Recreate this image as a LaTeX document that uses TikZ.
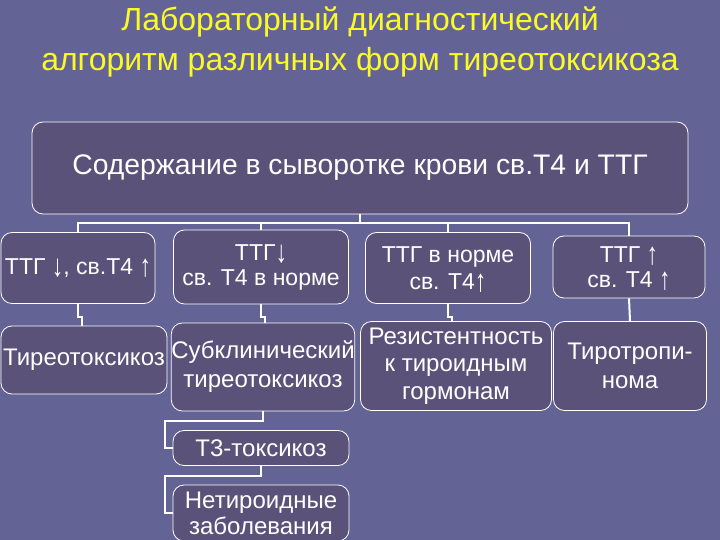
\documentclass[tikz,border=0pt]{standalone}
\usepackage{graphicx}
\usepackage{fontspec}
\setmainfont{Liberation Sans}
\definecolor{slide}{RGB}{99,99,150}
\definecolor{boxfill}{RGB}{91,82,121}
\definecolor{titleyellow}{RGB}{250,250,40}
% taller arrows as on the slide
\newcommand\arrup{\smash{\raisebox{-2pt}{\scalebox{1}[1.35]{↑}}}}
\newcommand\arrdn{\smash{\raisebox{-2pt}{\scalebox{1}[1.35]{↓}}}}

\begin{document}
\begin{tikzpicture}[x=1pt,y=-1pt,font=\fontsize{23}{25}\selectfont]
\tikzset{
% boxes of the algorithm: rounded, thin white frame
box/.style={draw=white,line width=0.8pt,fill=boxfill,rounded corners=11,text=white,align=center,inner sep=0pt},
link/.style={draw=white,line width=2pt},
wide/.style={font=\fontsize{24}{29}\selectfont}
}
\fill[slide] (0,0) rectangle (720,540);
\useasboundingbox (0,0) rectangle (720,540);

% title
\node(t)[text=titleyellow,align=center,font=\fontsize{32}{40}\selectfont] at (360,42) {Лабораторный диагностический\\алгоритм различных форм тиреотоксикоза};

% the boxes
\node(0)[box,minimum width=656,minimum height=92,font=\fontsize{28.3}{30}\selectfont] at (360,168) {Содержание в сыворотке крови св.Т4 и ТТГ};
\node(1)[box,minimum width=154,minimum height=71] at (78,268) {ТТГ \arrdn, св.Т4 \arrup};
\node(2)[box,minimum width=175,minimum height=74] at (261,267) {ТТГ\arrdn\\св. Т4 в норме};
\node(3)[box,minimum width=165,minimum height=71] at (448,268) {ТТГ в норме\\[2pt]св. Т4\arrup};
\node(4)[box,minimum width=152,minimum height=62] at (629,267) {ТТГ \arrup\\св. Т4 \arrup};
\node(5)[box,wide,minimum width=166,minimum height=68] at (84,360) {Тиреотоксикоз};
\node(6)[box,wide,minimum width=181,minimum height=88] at (263,367) {Субклинический\\тиреотоксикоз};
\node(7)[box,font=\fontsize{24}{27.5}\selectfont,minimum width=191,minimum height=89] at (456,366) {Резистентность\\к тироидным\\гормонам};
\node(8)[box,wide,minimum width=153,minimum height=89] at (630,366) {Тиротропи-\\нома};
\node(9)[box,wide,minimum width=176,minimum height=35] at (261,448) {Т3-токсикоз};
\node(10)[box,font=\fontsize{24}{26}\selectfont,minimum width=176,minimum height=56] at (261,513) {Нетироидные\\заболевания};

% from the top box to the first row
\foreach \n in {1,...,4}
  \draw[link] (0.south) -- ++(0,9) -| (\n.north);
% first row to second row
\foreach \a/\b in {1/5,2/6,3/7}
  \draw[link] (\a.south) -- ++(0,13) -- ++(4,0) -- ([xshift=4pt]\a.south |- \b.north);
\draw[link] (4.south) -- (8.north);
% subclinical branch
\draw[link] (6.south) -- ++(0,10) -| ([xshift=-8pt]9.west) -- (9.west);
\draw[link] (9.south) -- ++(0,10) -| ([xshift=-8pt]10.west) -- (10.west);
\end{tikzpicture}
\end{document}
